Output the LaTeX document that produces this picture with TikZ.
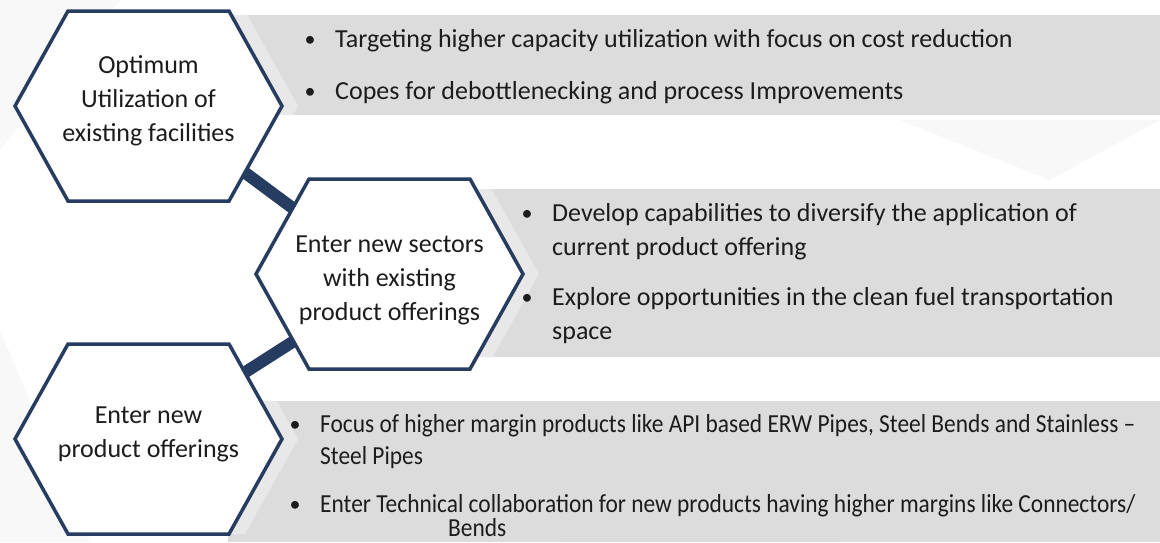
\documentclass[tikz,border=0pt]{standalone}
\usepackage{fontspec}
\setmainfont{Carlito}
\newfontfamily\narrowfont[FakeStretch=0.9]{Carlito}
\usetikzlibrary{calc}
\definecolor{navy}{RGB}{38,60,97}
\definecolor{band}{RGB}{220,220,220}
\definecolor{bandshade}{RGB}{232,232,232}
\definecolor{ink}{RGB}{28,28,28}
\definecolor{facet}{RGB}{248,248,248}
\pgfdeclarelayer{bg}
\pgfdeclarelayer{links}
\pgfsetlayers{bg,links,main}
\tikzset{
  hexline/.style={draw=navy,line width=3.5pt,fill=white,line join=miter},
  hextext/.style={align=center,text=ink,inner sep=0pt,font=\fontsize{26}{34}\selectfont},
  dot/.style={text=ink,inner sep=0pt,font=\fontsize{22}{34}\selectfont},
  bullet/.style={anchor=west,align=left,text=ink,inner sep=0pt,font=\fontsize{26}{34}\selectfont},
  smallbullet/.style={bullet,font=\narrowfont\fontsize{26}{32}\selectfont},
  link/.style={draw=navy,line width=12pt},
}
% hexagon round a centre
\newcommand{\hexat}[2][hexline]{%
  \path[#1] ($(#2)+(-133.5,0)$) -- ++(53,-95) -- ++(161,0) -- ++(53,95)
    -- ++(-53,95) -- ++(-161,0) -- cycle;}
\begin{document}
\begin{tikzpicture}[x=1pt,y=-1pt]
	\useasboundingbox (0,0) rectangle (1160,542);
	\begin{pgfonlayer}{bg}
	\fill[white] (0,0) rectangle (1160,542);
	\fill[facet] (0,150) -- (120,0) -- (0,0) -- cycle;
	\fill[facet] (560,542) -- (700,400) -- (840,542) -- cycle;
	\fill[facet] (900,120) -- (1050,180) -- (1160,120) -- cycle;
	\fill[facet] (0,330) -- (90,542) -- (0,542) -- cycle;
	% grey bands
	\fill[band] (230,15) rectangle (1160,115);
	\fill[band] (465,189) rectangle (1160,357);
	\fill[band] (228,401) rectangle (1160,542);
	\begin{scope}
	\clip (230,15) rectangle (1160,115) (465,189) rectangle (1160,357) (228,401) rectangle (1160,542);
	\hexat[fill=bandshade]{164.5,106}
	\hexat[fill=bandshade]{405.5,274}
	\hexat[fill=bandshade]{164.5,439}
	\end{scope}
	\end{pgfonlayer}
	% hexagons and their titles
	\hexat{148.5,106}
	\hexat{389.5,274}
	\hexat{148.5,439}
	\node[hextext] (util) at (148.5,101) {Optimum\\Utilization of\\existing facilities};
	\node[hextext] (sectors) at (389.5,280) {Enter new sectors\\with existing\\product offerings};
	\node[hextext] (newprod) at (148.5,434) {Enter new\\product offerings};
	\begin{pgfonlayer}{links}
	\draw[link] (util) -- (sectors);
	\draw[link] (sectors) -- (newprod);
	\end{pgfonlayer}
	% first band
	\node[dot] (d1) at (310,41) {•};
	\node[bullet] (t1) at (335,41) {Targeting higher capacity utilization with focus on cost reduction};
	\node[dot] (d2) at (310,93) {•};
	\node[bullet] (t2) at (335,93) {Copes for debottlenecking and process Improvements};
	% second band
	\node[dot] (d3) at (527,215) {•};
	\node[bullet] (t3) at (552,232) {Develop capabilities to diversify the application of\\current product offering};
	\node[dot] (d4) at (527,299) {•};
	\node[bullet] (t4) at (552,316) {Explore opportunities in the clean fuel transportation\\space};
	% third band
	\node[dot] (d5) at (295,426) {•};
	\node[smallbullet] (t5) at (320,442) {Focus of higher margin products like API based ERW Pipes, Steel Bends and Stainless –\\Steel Pipes};
	\node[dot] (d6) at (295,506) {•};
	\node[smallbullet] (t6) at (320,506) {Enter Technical collaboration for new products having higher margins like Connectors/};
	\node[smallbullet] (t7) at (448,528) {Bends};
\end{tikzpicture}
\end{document}
